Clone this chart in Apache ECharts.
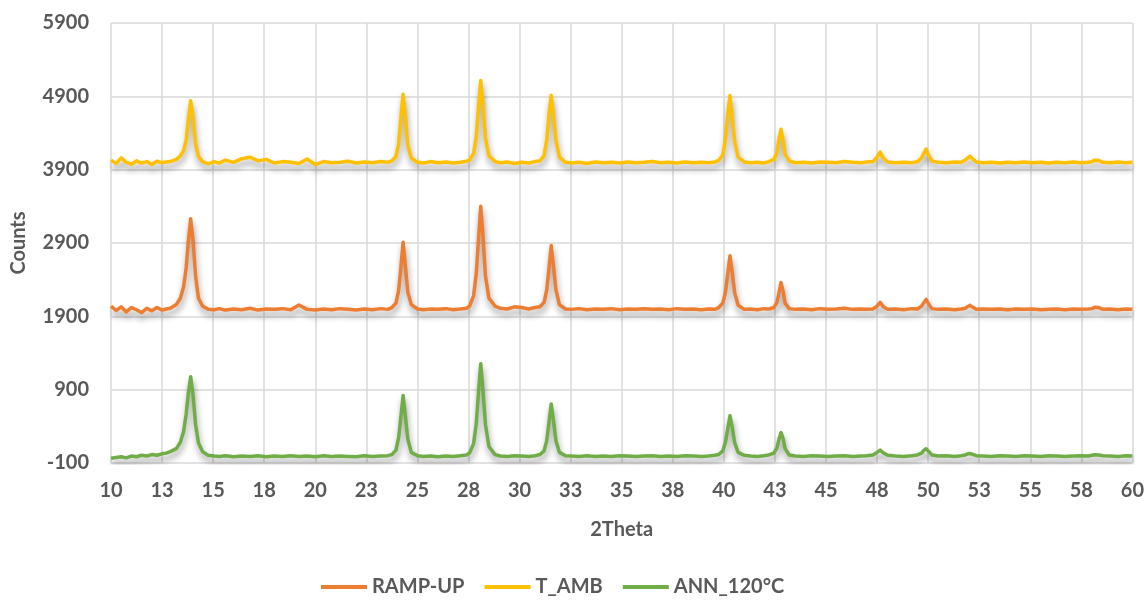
<!DOCTYPE html>
<html>
<head>
    <meta charset="utf-8">
    <title>XRD</title>
    <script src="https://cdn.jsdelivr.net/npm/echarts@6/dist/echarts.min.js"></script>
</head>
<body style="margin:0;background:#fff">
    <div id="main" style="width:1147px;height:613px;"></div>
    <script type="text/javascript">
        // 2Theta positions (shared by the three scans)
        var theta = [
            10.0, 10.25, 10.5, 10.75, 11.0, 11.25, 11.5, 11.75, 12.0, 12.25, 12.5, 12.7,
            12.9, 13.2, 13.4, 13.55, 13.68, 13.78, 13.9, 14.02, 14.14, 14.28, 14.48, 14.75,
            15.05, 15.3, 15.6, 16.0, 16.4, 16.8, 17.2, 17.6, 18.0, 18.4, 18.8, 19.2, 19.6, 20.0, 20.4, 20.8, 21.2, 21.6, 22.0, 22.4, 22.8, 23.2, 23.55,
            23.75, 23.95, 24.08, 24.19, 24.3, 24.41, 24.53, 24.7, 25.0,
            25.3, 25.65, 26.0, 26.4, 26.75, 27.1, 27.4,
            27.55, 27.75, 27.88, 27.99, 28.1, 28.21, 28.33, 28.5, 28.8,
            29.05, 29.4, 29.75, 30.1, 30.45, 30.75,
            31.0, 31.2, 31.33, 31.44, 31.55, 31.66, 31.78, 31.95, 32.25,
            32.55, 32.9, 33.3, 33.7, 34.1, 34.5, 34.9, 35.3, 35.7, 36.1, 36.5, 36.9, 37.3, 37.7, 38.1, 38.5, 38.9, 39.25, 39.55,
            39.75, 39.95, 40.08, 40.19, 40.3, 40.41, 40.53, 40.7, 41.0,
            41.3, 41.65, 41.95, 42.2,
            42.45, 42.6, 42.7, 42.8, 42.9, 43.0, 43.2,
            43.5, 43.9, 44.3, 44.7, 45.1, 45.5, 45.9, 46.3, 46.7, 47.0,
            47.3, 47.5, 47.65, 47.8, 48.02,
            48.4, 48.8, 49.2, 49.48,
            49.68, 49.8, 49.9, 50.0, 50.18,
            50.5, 50.9, 51.3, 51.62,
            51.82, 51.95, 52.05, 52.15, 52.36,
            52.7, 53.1, 53.5, 53.9, 54.3, 54.7, 55.1, 55.5, 55.9, 56.3, 56.7, 57.1, 57.5, 57.85,
            58.03, 58.16, 58.25, 58.35, 58.56,
            58.9, 59.3, 59.7, 60.0
        ];

        // RAMP-UP (orange)
        var rampUp = [
            2040, 1980, 2030, 1960, 2020, 1990, 1950, 2010, 1975, 2020, 1985, 2000,
            2010, 2060, 2150, 2300, 2560, 2900, 3230, 2920, 2450, 2150, 2040, 1995,
            1990, 2005, 1985, 2000, 1990, 2010, 1985, 2000, 1995, 2005, 1990, 2055, 1995, 1985, 2000, 1990, 2005, 1995, 1985, 2000, 1990, 2005, 1995,
            2020, 2080, 2250, 2560, 2910, 2580, 2230, 2060, 2000,
            1990, 2000, 1995, 2005, 1990, 2000, 2010,
            2040, 2180, 2480, 2950, 3400, 2990, 2450, 2150, 2040,
            2010, 2000, 2030, 2020, 2000, 2020,
            2030, 2090, 2260, 2550, 2865, 2580, 2260, 2060, 2000,
            1995, 2005, 1990, 2000, 1995, 2005, 1990, 2000, 1995, 2005, 1995, 2000, 1990, 2005, 1995, 2000, 1990, 2000, 1995,
            2020, 2080, 2230, 2480, 2725, 2500, 2220, 2050, 1995,
            2000, 1990, 2005, 2000,
            2020, 2090, 2220, 2360, 2240, 2080, 2005,
            1995, 2000, 1990, 2005, 1995, 2000, 2010, 1995, 2000, 1995,
            2000, 2040, 2090, 2035, 1995,
            2000, 1990, 2005, 2000,
            2040, 2090, 2130, 2080, 2005,
            1995, 2000, 1990, 2000,
            2010, 2035, 2050, 2030, 1995,
            2000, 1995, 2000, 1990, 2000, 1995, 2000, 1990, 1995, 2000, 1990, 2000, 1995, 2000,
            2005, 2025, 2035, 2020, 1995,
            2000, 1990, 2000, 1995
        ];

        // T_AMB (yellow)
        var tAmb = [
            4030, 3985, 4060, 4000, 3975, 4020, 3990, 4010, 3970, 4015, 3995, 4005,
            4010, 4040, 4090, 4160, 4300, 4560, 4840, 4600, 4250, 4080, 4010, 3980,
            4010, 3990, 4030, 4000, 4050, 4070, 4020, 4040, 3990, 4010, 4000, 3985, 4045, 3970, 4010, 3995, 4000, 4015, 3990, 4005, 3995, 4010, 4000,
            4020, 4080, 4250, 4600, 4930, 4620, 4230, 4060, 4000,
            3990, 4010, 3995, 4005, 3990, 4000, 4015,
            4030, 4120, 4350, 4750, 5115, 4780, 4330, 4090, 4010,
            3995, 4005, 3985, 4000, 3990, 4010,
            4020, 4090, 4300, 4650, 4915, 4640, 4300, 4070, 4000,
            3990, 4000, 3985, 4005, 3995, 4000, 3990, 4005, 3995, 4000, 4010, 3995, 4000, 3990, 4005, 3995, 4000, 3995, 4005,
            4025, 4100, 4320, 4650, 4910, 4620, 4280, 4070, 4005,
            3995, 4000, 3990, 4010,
            4040, 4130, 4320, 4450, 4300, 4110, 4020,
            3995, 4000, 3990, 4005, 4000, 3995, 4010, 4000, 3995, 4005,
            4010, 4070, 4140, 4060, 4005,
            3995, 4000, 3995, 4010,
            4060, 4130, 4180, 4110, 4020,
            4000, 3995, 4005, 4000,
            4030, 4065, 4085, 4055, 4005,
            3995, 4000, 3990, 4000, 3995, 4005, 3995, 4000, 3990, 4000, 3995, 4005, 3995, 4000,
            4010, 4030, 4040, 4025, 4000,
            3995, 4005, 3995, 4000
        ];

        // ANN_120°C (green)
        var ann120 = [
            -35, -25, -15, -30, -5, -15, 5, -5, 15, 5, 25, 35,
            55, 95, 185, 325, 565, 835, 1075, 815, 425, 175, 55, 5,
            -5, -10, 0, -15, -5, -10, 0, -15, -5, -10, 0, -10, -5, -15, 0, -10, -5, -10, -15, 0, -10, -5, 0,
            15, 75, 245, 525, 820, 535, 225, 45, 0,
            -10, -5, -15, -5, -10, 0, 10,
            35, 165, 435, 865, 1255, 885, 425, 125, 15,
            -5, -10, 0, -5, -10, 0,
            15, 65, 205, 455, 705, 475, 205, 45, 0,
            -5, -10, 0, -10, -5, -10, 0, -5, -10, -5, 0, -10, -5, -10, 0, -5, -10, -5, 5,
            15, 65, 185, 365, 545, 385, 175, 45, 5,
            -5, -10, 0, 10,
            35, 105, 225, 315, 235, 95, 10,
            -5, -10, 0, -5, -10, -5, 0, -10, -5, 0,
            10, 45, 75, 40, 5,
            -5, -10, 0, 10,
            35, 75, 95, 65, 10,
            -5, 0, -10, 0,
            10, 25, 30, 20, 0,
            -5, -10, 0, -5, -10, 0, -5, -10, 0, -5, -10, -5, 0, -5,
            5, 12, 15, 8, 0,
            -5, -10, 0, -5
        ];

        var seriesNames = ['RAMP-UP', 'T_AMB', 'ANN_120°C'];
        var seriesColors = ['#ED7D31', '#FFC000', '#70AD47'];
        var seriesValues = [rampUp, tAmb, ann120];

        var textColor = '#595959';
        var fontFamily = 'Lato, "Open Sans", sans-serif';

        var myChart = echarts.init(document.getElementById('main'));

        var series = seriesNames.map(function (name, k) {
            return {
                name: name,
                type: 'line',
                showSymbol: false,
                symbol: 'none',
                smooth: false,
                animation: false,
                data: theta.map(function (t, i) { return [t, seriesValues[k][i]]; }),
                lineStyle: {
                    color: seriesColors[k],
                    width: 3.5,
                    join: 'round',
                    shadowColor: 'rgba(0,0,0,0.4)',
                    shadowBlur: 6,
                    shadowOffsetX: 1,
                    shadowOffsetY: 5
                },
                itemStyle: { color: seriesColors[k] }
            };
        });

        var labelStyle = {
            color: textColor,
            fontFamily: fontFamily,
            fontWeight: 'bold',
            fontSize: 20
        };

        var option = {
            backgroundColor: '#fff',
            animation: false,
            grid: {
                left: 111,
                right: 14,
                top: 23,
                bottom: 150
            },
            legend: {
                data: seriesNames,
                bottom: 11,
                left: 316,
                icon: 'rect',
                itemWidth: 46,
                itemHeight: 4,
                itemGap: 20,
                textStyle: labelStyle
            },
            xAxis: {
                type: 'value',
                min: 10,
                max: 60,
                interval: 2.5,
                name: '2Theta',
                nameLocation: 'middle',
                nameGap: 57,
                nameTextStyle: labelStyle,
                axisLine: { show: false },
                axisTick: { show: false },
                axisLabel: Object.assign({
                    margin: 18,
                    formatter: function (v) { return String(Math.round(v)); }
                }, labelStyle),
                splitLine: { show: true, lineStyle: { color: '#d9d9d9', width: 1.5 } }
            },
            yAxis: {
                type: 'value',
                min: -100,
                max: 5900,
                interval: 1000,
                name: 'Counts',
                nameLocation: 'middle',
                nameGap: 82,
                nameTextStyle: labelStyle,
                axisLine: { show: false },
                axisTick: { show: false },
                axisLabel: Object.assign({
                    margin: 22,
                    formatter: function (v) { return String(v); }
                }, labelStyle),
                splitLine: { show: true, lineStyle: { color: '#d9d9d9', width: 1.5 } }
            },
            series: series
        };

        myChart.setOption(option);
    </script>
</body>
</html>
